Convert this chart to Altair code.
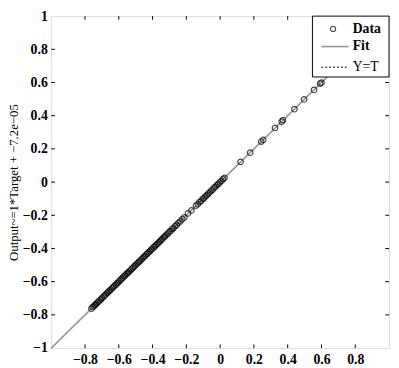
import altair as alt
import pandas as pd

# ---- data ----
targets = [
    -0.762, -0.755, -0.748, -0.741, -0.736, -0.728, -0.720, -0.713, -0.705, -0.699,
    -0.690, -0.684, -0.676, -0.668, -0.661, -0.655, -0.648, -0.640, -0.633, -0.627,
    -0.618, -0.611, -0.604, -0.597, -0.589, -0.583, -0.575, -0.568, -0.561, -0.553,
    -0.546, -0.540, -0.532, -0.525, -0.517, -0.510, -0.503, -0.496, -0.488, -0.481,
    -0.474, -0.466, -0.459, -0.452, -0.445, -0.437, -0.430, -0.423, -0.415, -0.408,
    -0.401, -0.393, -0.386, -0.379, -0.371, -0.364, -0.356, -0.349, -0.341, -0.333,
    -0.326, -0.318, -0.309, -0.301, -0.293, -0.284, -0.276, -0.266, -0.257, -0.247,
    -0.236, -0.224, -0.212, -0.190, -0.170, -0.143, -0.132, -0.122, -0.113, -0.104,
    -0.095, -0.087, -0.078, -0.070, -0.061, -0.052, -0.044, -0.035, -0.027, -0.018,
    -0.010, -0.002, 0.008, 0.017, 0.026, 0.121, 0.178, 0.243, 0.255, 0.325,
    0.365, 0.372, 0.440, 0.497, 0.556, 0.592, 0.600,
]
outputs = [
    -0.763, -0.754, -0.749, -0.740, -0.737, -0.727, -0.721, -0.712, -0.706, -0.698,
    -0.691, -0.683, -0.677, -0.667, -0.662, -0.654, -0.649, -0.639, -0.634, -0.626,
    -0.619, -0.610, -0.605, -0.596, -0.590, -0.582, -0.576, -0.567, -0.562, -0.552,
    -0.547, -0.539, -0.533, -0.524, -0.518, -0.509, -0.504, -0.495, -0.489, -0.480,
    -0.475, -0.465, -0.460, -0.451, -0.446, -0.436, -0.431, -0.422, -0.416, -0.407,
    -0.402, -0.392, -0.387, -0.378, -0.372, -0.363, -0.357, -0.348, -0.342, -0.332,
    -0.327, -0.317, -0.310, -0.300, -0.294, -0.283, -0.277, -0.265, -0.258, -0.246,
    -0.237, -0.223, -0.213, -0.189, -0.171, -0.142, -0.133, -0.121, -0.114, -0.103,
    -0.096, -0.086, -0.079, -0.069, -0.062, -0.051, -0.045, -0.034, -0.028, -0.017,
    -0.011, -0.001, 0.007, 0.018, 0.025, 0.122, 0.177, 0.244, 0.254, 0.326,
    0.364, 0.373, 0.439, 0.498, 0.555, 0.593, 0.599,
]
fit_x = [-1.0, 1.0]
fit_y = [-1.000072, 0.999928]
yt_x = [-1.0, 1.0]
yt_y = [-1.0, 1.0]
x_tick_values = [-0.8, -0.6, -0.4, -0.2, 0.0, 0.2, 0.4, 0.6, 0.8]
y_tick_values = [-1.0, -0.8, -0.6, -0.4, -0.2, 0.0, 0.2, 0.4, 0.6, 0.8, 1.0]
legend_labels = ["Data", "Fit", "Y=T"]
y_title = "Output~=1*Target + \u22127.2e\u221205"

FONT = "Liberation Serif"
W, H = 344, 338

xs = alt.Scale(domain=[-1, 1], nice=False, zero=False)
ys = alt.Scale(domain=[-1, 1], nice=False, zero=False)
lab = "replace(format(datum.value, '~g'), '-', '\u2212')"
xaxis = alt.Axis(values=x_tick_values, ticks=False, domain=False, grid=False,
                 labelPadding=5, labelFont=FONT, labelFontSize=14,
                 labelFontWeight="bold", labelColor="black", labelFlush=False,
                 labelOverlap=False, labelExpr=lab, title=None)
yaxis = alt.Axis(values=y_tick_values, ticks=False, domain=False, grid=False,
                 labelPadding=4, labelFont=FONT, labelFontSize=14,
                 labelFontWeight="bold", labelColor="black", labelFlush=False,
                 labelOverlap=False, labelExpr=lab, title=y_title, titleFont=FONT,
                 titleFontSize=13, titleFontWeight="normal", titleColor="black",
                 titleX=-31, titleBaseline="bottom")

pts = pd.DataFrame({"t": targets, "o": outputs})
fit = pd.DataFrame({"x": fit_x, "y": fit_y})
yt = pd.DataFrame({"x": yt_x, "y": yt_y})

X = lambda f: alt.X(f, type="quantitative", scale=xs, axis=xaxis)
Y = lambda f: alt.Y(f, type="quantitative", scale=ys, axis=yaxis)
XD = lambda v: alt.XDatum(v, type="quantitative", scale=xs, axis=xaxis)
YD = lambda v: alt.YDatum(v, type="quantitative", scale=ys, axis=yaxis)

yt_line = alt.Chart(yt).mark_line(color="black", strokeDash=[2, 2], strokeWidth=1).encode(
    x=X("x"), y=Y("y"))
fit_line = alt.Chart(fit).mark_line(color="#9a9a9a", strokeWidth=1.6).encode(
    x=X("x"), y=Y("y"))
points = alt.Chart(pts).mark_point(shape="circle", filled=False, color="black",
                                   size=32, strokeWidth=1.2).encode(
    x=X("t"), y=Y("o"))

# inward ticks on all four sides
tx = pd.DataFrame({"v": x_tick_values})
ty = pd.DataFrame({"v": y_tick_values[1:-1]})
tl = 0.022
bottom_t = alt.Chart(tx).mark_rule(color="black", strokeWidth=1).encode(
    x=X("v"), y=YD(-1.0), y2=alt.datum(-1.0 + tl))
top_t = alt.Chart(tx).mark_rule(color="black", strokeWidth=1).encode(
    x=X("v"), y=YD(1.0), y2=alt.datum(1.0 - tl))
left_t = alt.Chart(ty).mark_rule(color="black", strokeWidth=1).encode(
    y=Y("v"), x=XD(-1.0), x2=alt.datum(-1.0 + tl))
right_t = alt.Chart(ty).mark_rule(color="black", strokeWidth=1).encode(
    y=Y("v"), x=XD(1.0), x2=alt.datum(1.0 - tl))

# legend box (top right)
one = pd.DataFrame({"k": [0]})
lg_box = alt.Chart(one).mark_rect(fill="white", stroke="black", strokeWidth=1).encode(
    x=alt.value(266), x2=alt.value(W), y=alt.value(0), y2=alt.value(62))
lg_pt = alt.Chart(one).mark_point(shape="circle", filled=False, color="black",
                                  size=28, strokeWidth=1.1).encode(
    x=alt.value(287), y=alt.value(13))
lg_fit = alt.Chart(one).mark_rule(color="#9a9a9a", strokeWidth=1.6).encode(
    x=alt.value(275), x2=alt.value(303), y=alt.value(31))
lg_yt = alt.Chart(one).mark_rule(color="black", strokeDash=[2, 2], strokeWidth=1).encode(
    x=alt.value(275), x2=alt.value(303), y=alt.value(52))
lg_texts = []
for label, yy, wt in zip(legend_labels, [13, 31, 52], ["bold", "bold", "normal"]):
    lg_texts.append(
        alt.Chart(one).mark_text(text=label, font=FONT, fontSize=14, fontWeight=wt,
                                 align="left", baseline="middle", color="black").encode(
            x=alt.value(307), y=alt.value(yy)))

chart = alt.layer(
    yt_line, fit_line, points, bottom_t, top_t, left_t, right_t,
    lg_box, lg_pt, lg_fit, lg_yt, *lg_texts
).properties(
    width=W, height=H,
    autosize=alt.AutoSizeParams(type="none"),
    padding={"left": 44, "top": 5, "right": 2, "bottom": 15},
).configure_view(stroke="black", strokeWidth=1).configure_axis(
    labelOverlap=False
).configure(background="white")

chart.save("out.html", embed_options={"renderer": "svg", "actions": False})
